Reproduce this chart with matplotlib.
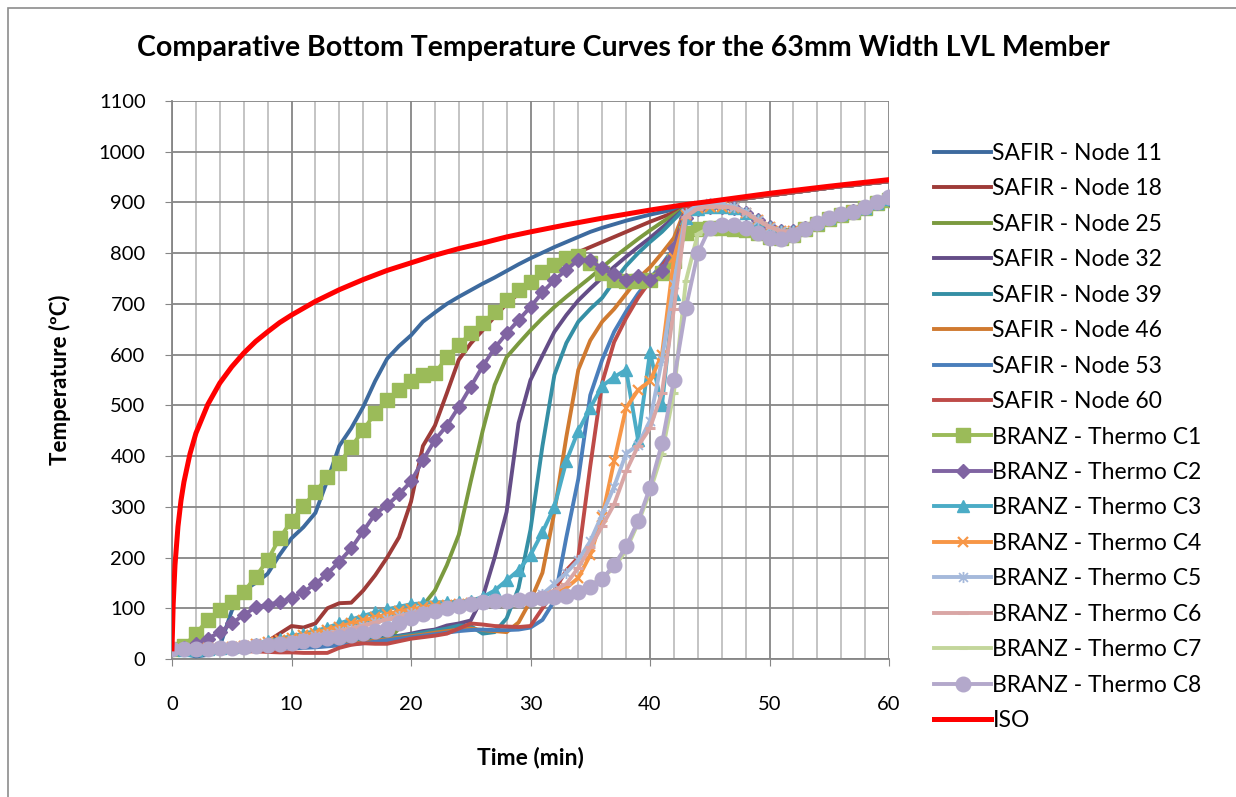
import matplotlib
matplotlib.use("Agg")
import matplotlib.pyplot as plt
from matplotlib.path import Path
from matplotlib.patches import Rectangle
from matplotlib.ticker import MultipleLocator

plt.rcParams['font.family'] = ['Lato', 'DejaVu Sans']

# ---- data -------------------------------------------------------------
minutes = list(range(61))

# SAFIR nodes, 0-43 min
node11 = [20, 10, 5, 8, 25, 95, 135, 150, 168, 205,
          238, 260, 288, 352, 420, 455, 497, 548, 592, 617,
          638, 665, 683, 700, 714, 727, 740, 752, 765, 778,
          790, 801, 812, 822, 832, 842, 850, 857, 864, 870,
          876, 881, 886, 890]
node18 = [20, 20, 18, 18, 18, 18, 20, 25, 35, 50,
          65, 62, 70, 100, 110, 111, 135, 165, 200, 240,
          310, 420, 460, 524, 590, 622, 648, 675, 700, 720,
          742, 762, 778, 791, 802, 812, 822, 832, 842, 852,
          862, 871, 880, 890]
node25 = [20, 20, 20, 20, 20, 21, 22, 23, 24, 25,
          27, 29, 31, 34, 37, 41, 45, 50, 36, 60,
          80, 105, 135, 185, 245, 350, 450, 540, 595, 622,
          648, 672, 694, 714, 733, 752, 772, 792, 810, 828,
          845, 861, 876, 890]
node32 = [20, 20, 19, 19, 19, 19, 20, 20, 21, 22,
          23, 24, 26, 28, 31, 34, 37, 40, 43, 46,
          50, 55, 58, 66, 70, 76, 122, 200, 290, 465,
          550, 598, 645, 678, 707, 730, 752, 773, 793, 812,
          830, 850, 870, 890]
node39 = [20, 20, 19, 19, 19, 19, 20, 20, 21, 22,
          23, 24, 26, 28, 30, 33, 36, 39, 42, 45,
          48, 52, 56, 60, 66, 65, 50, 53, 80, 140,
          255, 420, 560, 623, 665, 690, 712, 745, 775, 800,
          822, 842, 866, 890]
node46 = [20, 20, 19, 19, 19, 19, 19, 20, 20, 21,
          22, 23, 24, 26, 28, 30, 33, 36, 39, 42,
          45, 48, 52, 55, 58, 60, 57, 55, 53, 72,
          115, 170, 290, 438, 570, 628, 665, 690, 720, 750,
          772, 800, 830, 890]
node53 = [20, 20, 19, 19, 18, 18, 18, 19, 19, 20,
          21, 22, 23, 25, 27, 29, 31, 34, 37, 40,
          43, 46, 49, 52, 55, 57, 58, 57, 57, 58,
          62, 77, 115, 240, 355, 520, 590, 645, 685, 720,
          750, 778, 810, 890]
node60 = [20, 18, 16, 15, 15, 15, 15, 15, 14, 13,
          13, 12, 12, 12, 22, 28, 31, 30, 30, 35,
          40, 43, 46, 50, 60, 70, 68, 65, 64, 63,
          65, 100, 135, 175, 200, 380, 545, 625, 672, 712,
          745, 775, 805, 890]
# SAFIR nodes, 44-60 min
safir_tail = [893, 897, 901, 905, 908, 911, 914, 917, 920, 923,
              926, 929, 932, 934, 937, 939, 942]

# BRANZ thermocouples
branz_tail = [892, 892, 890, 880, 865, 852, 843, 843, 850, 860,
              870, 878, 883, 890, 899, 907]   # 45-60 min
c1 = [20, 25, 50, 77, 97, 112, 132, 162, 195, 238,
      272, 302, 329, 359, 386, 418, 451, 485, 511, 530,
      548, 560, 563, 595, 619, 642, 662, 684, 708, 727,
      743, 763, 777, 790, 795, 780, 760, 748, 745, 745,
      748, 760, 785, 840, 848, 850, 850, 848, 845, 840,
      832, 830, 836, 848, 858, 868, 876, 882, 890, 898,
      905]
c2 = [20, 22, 30, 40, 53, 70, 87, 102, 107, 112,
      120, 132, 148, 168, 192, 218, 252, 286, 303, 325,
      350, 392, 432, 460, 497, 537, 577, 613, 642, 668,
      694, 723, 747, 767, 787, 786, 770, 758, 748, 755,
      748, 765, 810, 870, 888] + branz_tail
c3 = [20, 18, 18, 20, 22, 24, 26, 30, 35, 40,
      45, 50, 55, 62, 70, 78, 85, 92, 98, 103,
      108, 110, 112, 112, 113, 115, 122, 135, 155, 175,
      205, 250, 300, 390, 450, 495, 538, 556, 570, 432,
      605, 500, 720, 870, 888] + branz_tail
c4 = [20, 20, 20, 21, 22, 24, 26, 29, 33, 37,
      42, 47, 52, 58, 64, 70, 76, 82, 88, 94,
      98, 102, 105, 107, 108, 110, 111, 112, 113, 114,
      116, 120, 128, 140, 160, 205, 280, 390, 495, 530,
      548, 600, 790, 875, 890] + branz_tail
c5 = [20, 20, 20, 21, 22, 23, 25, 27, 30, 33,
      37, 41, 45, 50, 55, 60, 66, 72, 78, 84,
      90, 95, 99, 102, 105, 107, 109, 110, 112, 114,
      118, 128, 148, 170, 195, 232, 285, 340, 405, 422,
      470, 590, 740, 880, 895, 898, 896, 892, 882, 866,
      852, 843, 843, 850, 860, 870, 878, 883, 890, 899,
      907]
c6 = [20, 20, 20, 21, 22, 23, 25, 27, 30, 33,
      37, 41, 45, 50, 55, 60, 66, 72, 78, 84,
      90, 95, 99, 102, 105, 107, 109, 111, 113, 115,
      118, 125, 135, 148, 180, 220, 262, 305, 370, 420,
      455, 525, 690, 872, 888] + branz_tail
c7 = [20, 20, 20, 20, 21, 22, 24, 26, 28, 30,
      32, 35, 38, 41, 44, 48, 52, 56, 60, 70,
      80, 88, 95, 100, 105, 108, 112, 114, 115, 116,
      118, 121, 124, 128, 135, 145, 160, 180, 215, 268,
      330, 405, 525, 745, 838, 850, 853, 852, 848, 840,
      832, 830, 836, 848, 858, 868, 876, 882, 890, 898,
      905]
c8 = [20, 20, 20, 20, 21, 22, 24, 26, 28, 30,
      32, 35, 38, 41, 44, 48, 52, 56, 60, 70,
      80, 88, 95, 100, 105, 108, 112, 114, 115, 116,
      118, 120, 122, 125, 132, 142, 158, 185, 222, 272,
      338, 425, 550, 692, 800, 850, 856, 856, 850, 840,
      830, 828, 836, 848, 859, 870, 878, 882, 891, 900,
      910]

# ISO 834 standard fire curve
iso_time = [0, 0.1, 0.25, 0.5, 0.75, 1, 1.5, 2, 3, 4, 5, 6, 7, 8, 9, 10,
            12, 14, 16, 18, 20, 22, 24, 26, 28, 30, 33, 36, 40, 43, 45,
            50, 55, 60]
iso_temp = [20, 108, 185, 261, 312, 349, 404, 445, 502, 544, 576, 603, 626,
            645, 663, 678, 705, 728, 748, 766, 781, 796, 809, 820, 832, 842,
            856, 869, 885, 896, 902, 918, 932, 945]

safir_labels = ["SAFIR - Node 11", "SAFIR - Node 18", "SAFIR - Node 25",
                "SAFIR - Node 32", "SAFIR - Node 39", "SAFIR - Node 46",
                "SAFIR - Node 53", "SAFIR - Node 60"]
safir_series = [node11, node18, node25, node32, node39, node46, node53, node60]
safir_colors = ["#3D6A9E", "#9E3B38", "#7B9A3F", "#644D87",
                "#358FA5", "#D07A30", "#4A7EBB", "#BE4B48"]

branz_labels = ["BRANZ - Thermo C1", "BRANZ - Thermo C2", "BRANZ - Thermo C3",
                "BRANZ - Thermo C4", "BRANZ - Thermo C5", "BRANZ - Thermo C6",
                "BRANZ - Thermo C7", "BRANZ - Thermo C8"]
branz_series = [c1, c2, c3, c4, c5, c6, c7, c8]
branz_colors = ["#9BBB59", "#8064A2", "#4BACC6", "#F79646",
                "#A5B9DB", "#D9A6A5", "#C3D69B", "#B3A8CB"]

# asterisk-style marker (x with a vertical bar)
asterisk = Path([(0, -1), (0, 1), (-0.8, -0.8), (0.8, 0.8), (-0.8, 0.8), (0.8, -0.8)],
                [Path.MOVETO, Path.LINETO] * 3)
branz_markers = [dict(marker='s', markersize=10),
                 dict(marker='D', markersize=7.5),
                 dict(marker='^', markersize=8.5),
                 dict(marker='x', markersize=7.5, markeredgewidth=1.6),
                 dict(marker=asterisk, markersize=8, markeredgewidth=1.3),
                 dict(marker='_', markersize=7, markeredgewidth=2.2),
                 dict(marker='_', markersize=6, markeredgewidth=2.2),
                 dict(marker='o', markersize=10.5)]

# ---- figure -----------------------------------------------------------
fig = plt.figure(figsize=(12.36, 7.97), dpi=100)
ax = fig.add_axes([172 / 1236, 1 - 659 / 797, (889 - 172) / 1236, (659 - 101) / 797])

for lab, vals, col in zip(safir_labels, safir_series, safir_colors):
    ax.plot(minutes, vals + safir_tail, color=col, lw=2.8, label=lab,
            solid_joinstyle='round', zorder=3)

for lab, vals, col, mk in zip(branz_labels, branz_series, branz_colors, branz_markers):
    ax.plot(minutes, vals, color=col, lw=2.8, label=lab, markerfacecolor=col,
            markeredgecolor=col, solid_joinstyle='round', zorder=4, **mk)

ax.plot(iso_time, iso_temp, color="#FF0000", lw=3.6, label="ISO",
        solid_joinstyle='round', zorder=5)

ax.set_xlim(0, 60)
ax.set_ylim(0, 1100)
ax.xaxis.set_major_locator(MultipleLocator(10))
ax.xaxis.set_minor_locator(MultipleLocator(2))
ax.yaxis.set_major_locator(MultipleLocator(100))

ax.grid(True, which='major', axis='both', color='#868686', lw=1.3, zorder=0)
ax.grid(True, which='minor', axis='x', color='#BFBFBF', lw=1.3, zorder=0)
ax.set_axisbelow(True)

for side in ('top', 'right'):
    ax.spines[side].set_visible(False)
for side in ('left', 'bottom'):
    ax.spines[side].set_color('#868686')
    ax.spines[side].set_linewidth(1.3)

ax.tick_params(axis='x', which='major', labelsize=14.5, pad=22, length=5,
               color='#868686', direction='out')
ax.tick_params(axis='x', which='minor', length=0)
ax.tick_params(axis='y', which='major', labelsize=14.5, pad=14, length=5,
               color='#868686', direction='out')

ax.set_xlabel("Time (min)", fontsize=16.5, fontweight='bold', labelpad=24)
ax.set_ylabel("Temperature (ºC)", fontsize=16, fontweight='bold', labelpad=20)

fig.text(0.504, 1 - 48 / 797, "Comparative Bottom Temperature Curves for the 63mm Width LVL Member",
         ha='center', va='center', fontsize=20.5, fontweight='bold')

fig.legend(loc='upper left', bbox_to_anchor=(934 / 1236, 1 - 143 / 797),
           frameon=False, fontsize=16.5, handlelength=2.5, handletextpad=0.05,
           labelspacing=0.63, borderaxespad=0, borderpad=0)

fig.patches.append(Rectangle((8 / 1236, -0.02), 1.2, 1 - 8 / 797 + 0.02,
                             transform=fig.transFigure, fill=False,
                             edgecolor='#8C8C8C', lw=1.2))

fig.savefig("out.png", dpi=100)
